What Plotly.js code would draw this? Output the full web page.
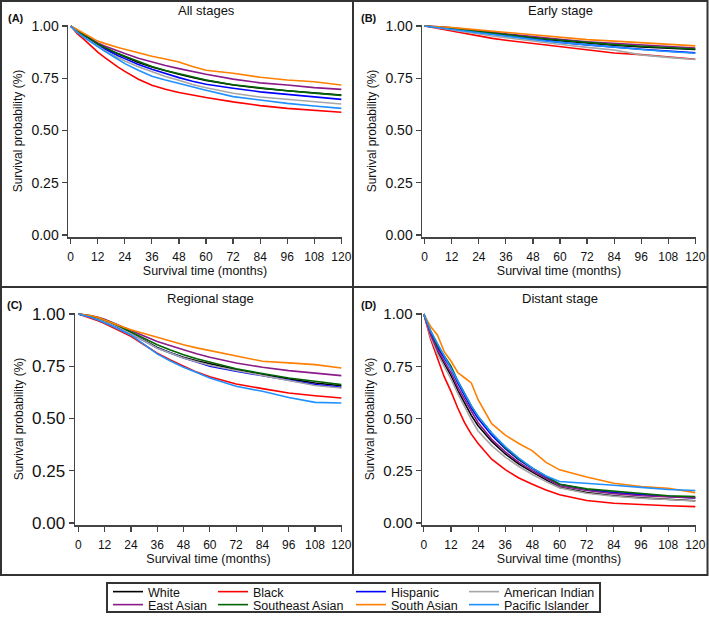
<!DOCTYPE html>
<html>
<head>
<meta charset="utf-8">
<script src="https://cdn.plot.ly/plotly-3.0.1.min.js"></script>
<style>
  html, body { margin: 0; padding: 0; background: #ffffff; }
  #km { width: 709px; height: 620px; }
</style>
</head>
<body>
<div id="km"></div>
<script>
// Time grid (months) shared by every curve
const months = [0, 3, 6, 9, 12, 15, 18, 21, 24, 30, 36, 42, 48, 54, 60, 72, 84, 96, 108, 120];

// Groups, legend order and colours
const groups = ['White', 'Black', 'Hispanic', 'American Indian', 'East Asian', 'Southeast Asian', 'South Asian', 'Pacific Islander'];
const groupColors = ['#000000', '#ff0000', '#0000ff', '#a6a6a6', '#8b1a8b', '#006400', '#ff8000', '#1e90ff'];

// (A) All stages
const allWhite = [1, 0.975, 0.955, 0.935, 0.912, 0.896, 0.880, 0.866, 0.852, 0.826, 0.804, 0.785, 0.769, 0.754, 0.740, 0.718, 0.702, 0.690, 0.680, 0.670];
const allBlack = [1, 0.962, 0.935, 0.903, 0.875, 0.850, 0.826, 0.803, 0.783, 0.745, 0.717, 0.697, 0.682, 0.669, 0.658, 0.637, 0.619, 0.606, 0.598, 0.587];
const allHispanic = [1, 0.972, 0.950, 0.928, 0.908, 0.890, 0.873, 0.858, 0.844, 0.816, 0.793, 0.772, 0.753, 0.736, 0.721, 0.702, 0.685, 0.673, 0.660, 0.649];
const allAmInd = [1, 0.970, 0.948, 0.925, 0.903, 0.883, 0.865, 0.848, 0.833, 0.805, 0.780, 0.758, 0.740, 0.720, 0.705, 0.678, 0.660, 0.649, 0.636, 0.627];
const allEastAsian = [1, 0.978, 0.960, 0.940, 0.919, 0.905, 0.892, 0.880, 0.868, 0.846, 0.828, 0.811, 0.796, 0.782, 0.769, 0.746, 0.728, 0.718, 0.705, 0.697];
const allSEAsian = [1, 0.976, 0.956, 0.936, 0.914, 0.898, 0.882, 0.868, 0.855, 0.829, 0.806, 0.787, 0.771, 0.756, 0.742, 0.719, 0.703, 0.690, 0.679, 0.668];
const allSouthAsian = [1, 0.982, 0.965, 0.947, 0.928, 0.917, 0.906, 0.897, 0.889, 0.871, 0.855, 0.842, 0.828, 0.806, 0.788, 0.774, 0.755, 0.742, 0.733, 0.718];
const allPacific = [1, 0.970, 0.945, 0.922, 0.900, 0.880, 0.860, 0.840, 0.820, 0.788, 0.760, 0.742, 0.725, 0.708, 0.693, 0.662, 0.645, 0.630, 0.617, 0.606];

// (B) Early stage
const earlyWhite = [1, 0.998, 0.995, 0.992, 0.988, 0.985, 0.981, 0.977, 0.973, 0.965, 0.957, 0.950, 0.943, 0.936, 0.930, 0.918, 0.908, 0.900, 0.894, 0.888];
const earlyBlack = [1, 0.994, 0.988, 0.982, 0.975, 0.969, 0.963, 0.957, 0.951, 0.941, 0.932, 0.924, 0.916, 0.908, 0.900, 0.884, 0.871, 0.863, 0.852, 0.841];
const earlyHispanic = [1, 0.997, 0.993, 0.990, 0.986, 0.982, 0.978, 0.974, 0.970, 0.960, 0.951, 0.943, 0.936, 0.929, 0.922, 0.910, 0.898, 0.889, 0.880, 0.872];
const earlyAmInd = [1, 0.996, 0.991, 0.986, 0.982, 0.976, 0.972, 0.967, 0.962, 0.952, 0.943, 0.935, 0.928, 0.920, 0.912, 0.898, 0.885, 0.862, 0.850, 0.840];
const earlyEastAsian = [1, 0.999, 0.997, 0.995, 0.992, 0.989, 0.986, 0.982, 0.978, 0.971, 0.963, 0.956, 0.949, 0.942, 0.936, 0.925, 0.917, 0.908, 0.902, 0.895];
const earlySEAsian = [1, 0.998, 0.995, 0.992, 0.988, 0.985, 0.981, 0.978, 0.974, 0.966, 0.958, 0.951, 0.944, 0.938, 0.932, 0.921, 0.911, 0.903, 0.896, 0.890];
const earlySouthAsian = [1, 0.999, 0.997, 0.995, 0.993, 0.990, 0.987, 0.984, 0.980, 0.974, 0.968, 0.962, 0.956, 0.950, 0.944, 0.935, 0.928, 0.920, 0.914, 0.905];
const earlyPacific = [1, 0.996, 0.992, 0.988, 0.984, 0.980, 0.976, 0.972, 0.968, 0.958, 0.950, 0.942, 0.935, 0.928, 0.922, 0.910, 0.898, 0.888, 0.878, 0.870];

// (C) Regional stage
const regWhite = [1, 0.995, 0.988, 0.978, 0.967, 0.955, 0.940, 0.925, 0.909, 0.875, 0.840, 0.815, 0.793, 0.776, 0.761, 0.734, 0.710, 0.689, 0.670, 0.657];
const regBlack = [1, 0.990, 0.980, 0.968, 0.955, 0.940, 0.925, 0.909, 0.893, 0.853, 0.813, 0.780, 0.750, 0.722, 0.700, 0.665, 0.643, 0.622, 0.609, 0.598];
const regHispanic = [1, 0.995, 0.987, 0.977, 0.966, 0.953, 0.938, 0.922, 0.906, 0.872, 0.837, 0.812, 0.790, 0.770, 0.750, 0.726, 0.705, 0.686, 0.662, 0.649];
const regAmInd = [1, 0.995, 0.988, 0.978, 0.967, 0.954, 0.940, 0.924, 0.907, 0.872, 0.836, 0.812, 0.790, 0.772, 0.755, 0.730, 0.705, 0.680, 0.658, 0.646];
const regEastAsian = [1, 0.997, 0.992, 0.984, 0.975, 0.962, 0.948, 0.934, 0.920, 0.895, 0.869, 0.848, 0.829, 0.810, 0.793, 0.766, 0.745, 0.729, 0.716, 0.705];
const regSEAsian = [1, 0.996, 0.990, 0.982, 0.972, 0.959, 0.945, 0.930, 0.914, 0.884, 0.853, 0.828, 0.805, 0.786, 0.769, 0.738, 0.715, 0.694, 0.678, 0.662];
const regSouthAsian = [1, 0.997, 0.992, 0.984, 0.973, 0.960, 0.948, 0.936, 0.925, 0.907, 0.888, 0.870, 0.853, 0.838, 0.825, 0.797, 0.774, 0.766, 0.758, 0.742];
const regPacific = [1, 0.993, 0.984, 0.972, 0.960, 0.945, 0.930, 0.915, 0.900, 0.855, 0.809, 0.775, 0.745, 0.720, 0.694, 0.654, 0.630, 0.600, 0.577, 0.574];

// (D) Distant stage
const distWhite = [1, 0.900, 0.820, 0.760, 0.705, 0.635, 0.575, 0.515, 0.465, 0.390, 0.330, 0.282, 0.243, 0.205, 0.170, 0.145, 0.130, 0.120, 0.113, 0.106];
const distBlack = [1, 0.880, 0.790, 0.700, 0.630, 0.550, 0.480, 0.425, 0.380, 0.305, 0.255, 0.215, 0.185, 0.158, 0.135, 0.107, 0.094, 0.087, 0.082, 0.078];
const distHispanic = [1, 0.910, 0.840, 0.790, 0.740, 0.670, 0.610, 0.550, 0.500, 0.420, 0.355, 0.302, 0.260, 0.220, 0.185, 0.160, 0.145, 0.135, 0.127, 0.120];
const distAmInd = [1, 0.890, 0.810, 0.750, 0.690, 0.620, 0.555, 0.495, 0.440, 0.370, 0.315, 0.270, 0.232, 0.198, 0.168, 0.142, 0.128, 0.118, 0.112, 0.105];
const distEastAsian = [1, 0.900, 0.830, 0.775, 0.720, 0.650, 0.590, 0.535, 0.480, 0.400, 0.340, 0.290, 0.250, 0.212, 0.178, 0.155, 0.140, 0.130, 0.124, 0.120];
const distSEAsian = [1, 0.920, 0.850, 0.800, 0.750, 0.680, 0.620, 0.560, 0.510, 0.430, 0.360, 0.305, 0.262, 0.222, 0.185, 0.163, 0.152, 0.140, 0.130, 0.126];
const distSouthAsian = [1, 0.940, 0.900, 0.820, 0.775, 0.720, 0.695, 0.670, 0.590, 0.475, 0.420, 0.380, 0.345, 0.290, 0.254, 0.220, 0.190, 0.174, 0.166, 0.145];
const distPacific = [1, 0.920, 0.860, 0.800, 0.745, 0.680, 0.620, 0.560, 0.510, 0.430, 0.365, 0.310, 0.262, 0.225, 0.198, 0.190, 0.180, 0.170, 0.160, 0.155];

const xTicks = [0, 12, 24, 36, 48, 60, 72, 84, 96, 108, 120];
const yTicks = [0, 0.25, 0.5, 0.75, 1];

// Panel setup: series per panel, axis suffix, title, tag
const panels = [
    { key: '', series: [allWhite, allBlack, allHispanic, allAmInd, allEastAsian, allSEAsian, allSouthAsian, allPacific], title: 'All stages', tag: '(A)' },
    { key: '2', series: [earlyWhite, earlyBlack, earlyHispanic, earlyAmInd, earlyEastAsian, earlySEAsian, earlySouthAsian, earlyPacific], title: 'Early stage', tag: '(B)' },
    { key: '3', series: [regWhite, regBlack, regHispanic, regAmInd, regEastAsian, regSEAsian, regSouthAsian, regPacific], title: 'Regional stage', tag: '(C)' },
    { key: '4', series: [distWhite, distBlack, distHispanic, distAmInd, distEastAsian, distSEAsian, distSouthAsian, distPacific], title: 'Distant stage', tag: '(D)' },
];

const W = 709, H = 620;
const px = (x) => x / W;
const py = (y) => 1 - y / H;
const FONT = 'Liberation Sans, Arial, Helvetica, sans-serif';
const AXCOL = '#444444';

let traces = [];
panels.forEach((p, pi) => {
    p.series.forEach((s, gi) => {
        traces.push({
            x: months,
            y: s,
            xaxis: 'x' + p.key,
            yaxis: 'y' + p.key,
            name: groups[gi],
            mode: 'lines',
            line: { color: groupColors[gi], width: 1.6 },
            showlegend: pi === 0,
            legend: gi === 0 ? 'legend' : 'legend' + (gi + 1),
        });
    });
});

function xAxis(d0, d1, anchor, r0, size) {
    return {
        domain: [px(d0), px(d1)], anchor: anchor, range: [r0, 120.3],
        tickvals: xTicks, ticks: 'outside', ticklen: 5, tickcolor: AXCOL, tickwidth: 1.2,
        ticklabelstandoff: 3,
        showline: true, linecolor: AXCOL, linewidth: 1.5, showgrid: false, zeroline: false,
        tickfont: { family: FONT, size: size, color: '#111' },
        title: { text: 'Survival time (months)', font: { family: FONT, size: 12.5, color: '#111' }, standoff: 0 },
    };
}
function yAxis(top, bot, anchor, size) {
    return {
        domain: [py(bot), py(top)], anchor: anchor, range: [-0.01, 1.005],
        tickvals: yTicks, tickformat: '.2f', ticks: 'outside', ticklen: 5, tickcolor: AXCOL, tickwidth: 1.2,
        showline: true, linecolor: AXCOL, linewidth: 1.5, showgrid: false, zeroline: false,
        tickfont: { family: FONT, size: size, color: '#111' },
        title: { text: 'Survival probability (%)', font: { family: FONT, size: 12, color: '#111' }, standoff: 6 },
    };
}

// Legend: one small legend per entry so the columns line up like the original
const legendCols = [108, 213, 351, 464];
const legendRows = [592, 605];
let legends = {};
groups.forEach((g, gi) => {
    let col = gi % 4, row = Math.floor(gi / 4);
    legends[gi === 0 ? 'legend' : 'legend' + (gi + 1)] = {
        x: px(legendCols[col]), y: py(legendRows[row]), xanchor: 'left', yanchor: 'middle',
        bgcolor: 'rgba(0,0,0,0)', borderwidth: 0, itemwidth: 30,
        font: { family: FONT, size: 12.5, color: '#111' },
    };
});

const FRAME = '#333333';
let shapes = [
    { type: 'rect', xref: 'paper', yref: 'paper', x0: px(1), x1: px(707.5), y0: py(1), y1: py(575), line: { color: FRAME, width: 2 } },
    { type: 'line', xref: 'paper', yref: 'paper', x0: px(1), x1: px(707.5), y0: py(287), y1: py(287), line: { color: FRAME, width: 2 } },
    { type: 'line', xref: 'paper', yref: 'paper', x0: px(353), x1: px(353), y0: py(1), y1: py(575), line: { color: FRAME, width: 2 } },
    { type: 'rect', xref: 'paper', yref: 'paper', x0: px(107), x1: px(600), y0: py(583), y1: py(612), line: { color: FRAME, width: 2 } },
];

let annotations = [];
const titlePos = [[206, 11], [560, 11], [210, 299], [560, 299]];
const tagPos = [[16, 18], [369, 18], [15, 305], [369, 305]];
panels.forEach((p, pi) => {
    annotations.push({
        xref: 'paper', yref: 'paper', x: px(titlePos[pi][0]), y: py(titlePos[pi][1]),
        text: p.title, showarrow: false, xanchor: 'center', yanchor: 'middle',
        font: { family: FONT, size: 13, color: '#111' },
    });
    annotations.push({
        xref: 'paper', yref: 'paper', x: px(tagPos[pi][0]), y: py(tagPos[pi][1]),
        text: '<b>' + p.tag + '</b>', showarrow: false, xanchor: 'center', yanchor: 'middle',
        font: { family: FONT, size: 11, color: '#111' },
    });
});

let layout = Object.assign({
    width: W, height: H,
    margin: { l: 0, r: 0, t: 0, b: 0, pad: 0 },
    paper_bgcolor: '#ffffff',
    plot_bgcolor: '#ffffff',
    font: { family: FONT, color: '#111' },
    xaxis: xAxis(68, 342, 'y', -1.2, 12),
    yaxis: yAxis(25, 237, 'x', 14),
    xaxis2: xAxis(422, 696, 'y2', -1.2, 12),
    yaxis2: yAxis(25, 237, 'x2', 14),
    xaxis3: xAxis(75, 342, 'y3', -1.5, 12),
    yaxis3: yAxis(313, 525, 'x3', 17),
    xaxis4: xAxis(422, 696, 'y4', -0.8, 12),
    yaxis4: yAxis(313, 525, 'x4', 15),
    shapes: shapes,
    annotations: annotations,
}, legends);

Plotly.newPlot('km', traces, layout, { staticPlot: true, displayModeBar: false });
</script>
</body>
</html>
